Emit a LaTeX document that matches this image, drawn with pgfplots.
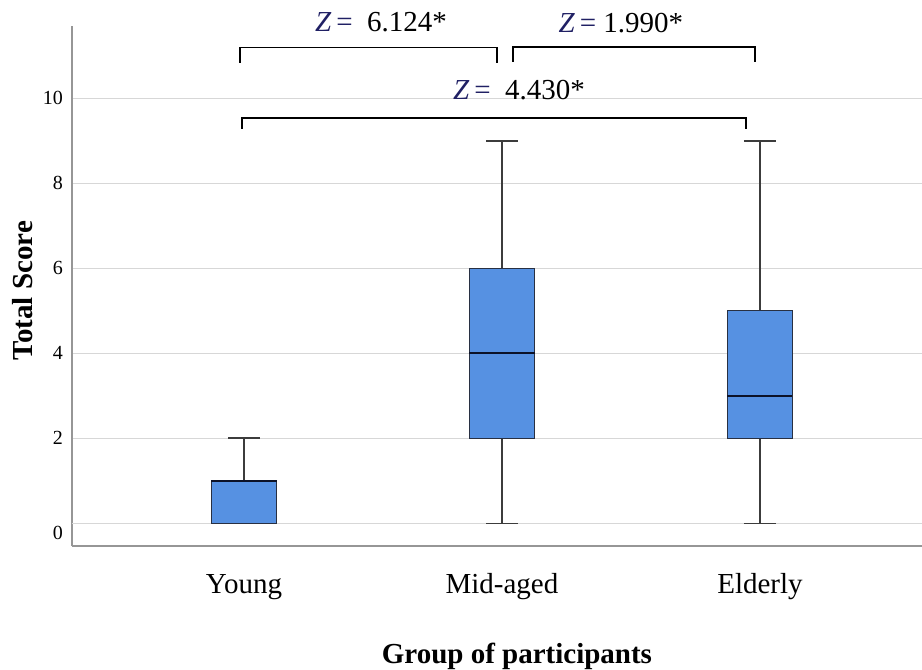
\documentclass[border=0pt]{standalone}
\usepackage{pgfplots}
\pgfplotsset{compat=1.18}
\usepgfplotslibrary{statistics}
\usepackage{fontspec}
\setmainfont{Liberation Serif}
\definecolor{boxblue}{RGB}{86,145,226}
\definecolor{boxedge}{RGB}{40,48,66}
\definecolor{medline}{RGB}{12,18,40}
\definecolor{whisk}{RGB}{60,60,60}
\definecolor{gridc}{RGB}{215,215,215}
\definecolor{axc}{RGB}{150,150,150}
\definecolor{zcol}{RGB}{32,32,100}
\newcommand{\zlab}[2]{{\color{zcol}\textit{Z}\,=}#1#2*}
\begin{document}
\begin{tikzpicture}
\useasboundingbox (-72pt,-124pt) rectangle (850pt,546pt);
\begin{axis}[
  scale only axis,
  width=850pt, height=520pt,
  xmin=0.3333, xmax=3.628,
  ymin=-0.534, ymax=11.70,
  clip=false,
  axis lines*=left,
  axis line style={draw=axc, line width=2pt},
  major tick length=0pt,
  xtick={1,2,3},
  xticklabels={Young,Mid-aged,Elderly},
  xticklabel style={anchor=base, yshift=-47pt, font=\fontsize{29}{32}\selectfont},
  ytick={2,4,6,8,10},
  extra y ticks={0},
  extra y tick style={grid=major, yticklabel style={yshift=-10pt}},
  ymajorgrids,
  grid style={draw=gridc, line width=1.5pt},
  /pgf/number format/assume math mode=true,
  yticklabel style={anchor=east, inner sep=0pt, xshift=-9pt, font=\fontsize{20}{22}\selectfont},
  xlabel={Group of participants},
  ylabel={Total Score},
  xlabel style={at={(axis description cs:0.5235,-0.225)}, anchor=base, font=\bfseries\fontsize{29}{32}\selectfont},
  ylabel style={at={(axis description cs:-0.0459,0.491)}, anchor=base, font=\bfseries\fontsize{29}{32}\selectfont},
  boxplot/draw direction=y,
  boxplot/every box/.style={draw=boxedge, fill=boxblue, line width=1pt},
  boxplot/every median/.style={draw=medline, line width=2.2pt},
  boxplot/every whisker/.style={draw=whisk, line width=1.6pt},
]
\addplot[boxplot prepared={lower whisker=0, lower quartile=0, median=1, upper quartile=1, upper whisker=2, draw position=1, box extend=0.252, whisker extend=0.124}] coordinates {};
\addplot[boxplot prepared={lower whisker=0, lower quartile=2, median=4, upper quartile=6, upper whisker=9, draw position=2, box extend=0.252, whisker extend=0.124}] coordinates {};
\addplot[boxplot prepared={lower whisker=0, lower quartile=2, median=3, upper quartile=5, upper whisker=9, draw position=3, box extend=0.252, whisker extend=0.124}] coordinates {};
% brackets
\addplot[black, line width=1.5pt] coordinates {(0.984,10.84) (0.984,11.195) (1.981,11.195) (1.981,10.84)};
\addplot[black, line width=1.5pt] coordinates {(2.043,10.855) (2.043,11.21) (2.981,11.21) (2.981,10.855)};
\addplot[black, line width=1.5pt] coordinates {(0.992,9.28) (0.992,9.536) (2.946,9.536) (2.946,9.28)};
\node[anchor=base, font=\fontsize{29}{32}\selectfont] at (axis cs:1.531,11.56) {\zlab{\ \ }{6.124}};
\node[anchor=base, font=\fontsize{29}{32}\selectfont] at (axis cs:2.461,11.54) {\zlab{\ }{1.990}};
\node[anchor=base, font=\fontsize{29}{32}\selectfont] at (axis cs:2.066,9.98) {\zlab{\ \ }{4.430}};
\end{axis}
\end{tikzpicture}
\end{document}
